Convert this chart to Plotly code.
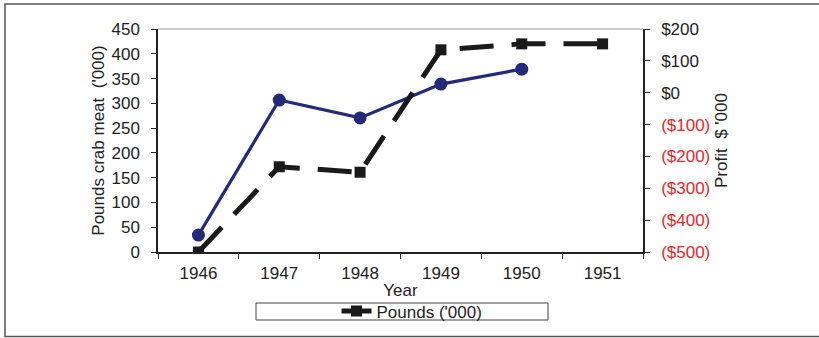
import plotly.graph_objects as go

years = ["1946", "1947", "1948", "1949", "1950", "1951"]
pounds = [0, 172, 161, 408, 420, 420]
profit_years = ["1946", "1947", "1948", "1949", "1950"]
profit = [-447, -23, -79, 27, 74]

left_ticks = [0, 50, 100, 150, 200, 250, 300, 350, 400, 450]
right_ticks = [-500, -400, -300, -200, -100, 0, 100, 200]
right_text = ["<span style='color:#e8262a'>($500)</span>",
              "<span style='color:#e8262a'>($400)</span>",
              "<span style='color:#e8262a'>($300)</span>",
              "<span style='color:#e8262a'>($200)</span>",
              "<span style='color:#e8262a'>($100)</span>",
              "$0", "$100", "$200"]

FONT = "Liberation Sans, Arial, sans-serif"
W, H = 819, 338
L, R, T, B = 158, 643, 29, 252


def px(x):
    return (x - L) / (R - L)


def py(y):
    return (B - y) / (B - T)


fig = go.Figure()
fig.add_trace(go.Scatter(
    x=profit_years, y=profit, yaxis="y", name="Profit",
    mode="lines+markers", showlegend=False,
    line=dict(color="#232a7c", width=3.2),
    marker=dict(symbol="circle", size=13, color="#232a7c"),
))
fig.add_trace(go.Scatter(
    x=years, y=pounds, yaxis="y2", name="Pounds ('000)",
    mode="lines+markers",
    line=dict(color="#1a1a1a", width=5, dash="34px,18px"),
    marker=dict(symbol="square", size=11, color="#1a1a1a"),
))

boundary_vals = [i - 0.5 for i in range(len(years) + 1)]
inner_tick = dict(showgrid=False, zeroline=False, showline=False, showticklabels=False,
                  ticks="inside", ticklen=5, tickcolor="#222")

fig.update_layout(
    width=W, height=H,
    margin=dict(l=L, r=W - R, t=T, b=H - B, autoexpand=False),
    paper_bgcolor="white", plot_bgcolor="white",
    font=dict(family=FONT, size=17, color="#222"),
    xaxis=dict(
        type="category", range=[-0.5, 5.5], tickson="boundaries",
        showgrid=False, zeroline=False, showline=True, linecolor="#222", linewidth=1.5,
        ticks="outside", ticklen=5, tickcolor="#222", ticklabelstandoff=5,
        title=dict(text="Year", standoff=2, font=dict(size=17)),
    ),
    xaxis2=dict(overlaying="x", anchor="y", side="bottom", range=[-0.5, 5.5],
                tickvals=boundary_vals, **inner_tick),
    yaxis=dict(
        range=[-500, 200], tickvals=right_ticks, ticktext=right_text, side="right",
        showgrid=False, zeroline=False, showline=True, linecolor="#222", linewidth=1.5,
        ticks="outside", ticklen=5, tickcolor="#222", ticklabelstandoff=8,
        title=dict(text="Profit  $ '000", standoff=6, font=dict(size=17)),
    ),
    yaxis2=dict(
        range=[0, 450], tickvals=left_ticks, side="left", overlaying="y",
        showgrid=False, zeroline=False, showline=True, linecolor="#222", linewidth=1.5,
        ticks="outside", ticklen=5, tickcolor="#222", ticklabelstandoff=8,
        title=dict(text="Pounds crab meat  ('000)", standoff=3, font=dict(size=17)),
    ),
    yaxis3=dict(overlaying="y", side="left", range=[0, 450], tickvals=left_ticks, **inner_tick),
    yaxis4=dict(overlaying="y", side="right", range=[-500, 200], tickvals=right_ticks, **inner_tick),
    showlegend=True,
    legend=dict(orientation="h", x=px(412), xanchor="center", y=py(311.5), yanchor="middle",
                bgcolor="rgba(0,0,0,0)", font=dict(size=17)),
    shapes=[
        dict(type="line", xref="paper", yref="paper", x0=0, x1=1, y0=1, y1=1,
             line=dict(color="#999", width=1.2)),
        dict(type="rect", xref="paper", yref="paper", x0=px(256), x1=px(548), y0=py(303), y1=py(320),
             line=dict(color="#444", width=1)),
        dict(type="rect", xref="paper", yref="paper", x0=px(5), x1=px(822), y0=py(4), y1=py(336.5),
             line=dict(color="#555", width=1.5)),
    ],
)

fig.write_html("out.html", config={"displayModeBar": False},
               post_script="document.body.style.margin='0';document.body.style.overflow='hidden';")
